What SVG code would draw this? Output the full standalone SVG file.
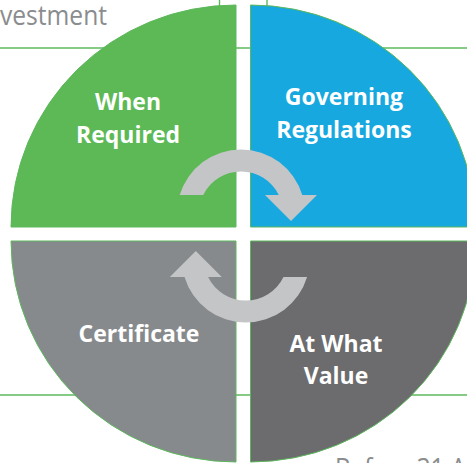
<svg xmlns="http://www.w3.org/2000/svg" xmlns:xlink="http://www.w3.org/1999/xlink" width="467" height="463" viewBox="0 0 467 463">
  <style>
    .rule { stroke: #5cb85c; stroke-width: 1.4; fill: none; }
    .quad { stroke: #5cb85c; stroke-width: 1; }
    .lbl { font-family: "Open Sans", "Liberation Sans", sans-serif; font-weight: 700; font-size: 23px; fill: #ffffff; text-anchor: middle; }
    .page { font-family: "Open Sans", "Liberation Sans", sans-serif; font-weight: 400; font-size: 27px; fill: #8a8c8e; }
    .arrow { fill: #c3c5c6; }
  </style>
  <defs>
    <path id="arrow" d="M179.7,195 A64,64 0 0 1 302.3,195 L317,195 L291,221 L265,195 L278.7,195 A42,42 0 0 0 203.3,195 Z"/>
  </defs>
  <rect width="467" height="463" fill="#ffffff"/>
  <g id="background">
    <text class="page" x="0" y="25" textLength="107" lengthAdjust="spacingAndGlyphs">vestment</text>
    <text class="page" x="335" y="478" textLength="131" lengthAdjust="spacingAndGlyphs">Before 31 A</text>
    <line class="rule" x1="0" y1="48" x2="467" y2="48"/>
    <line class="rule" x1="0" y1="395" x2="467" y2="395"/>
    <line class="rule" x1="219.5" y1="0" x2="219.5" y2="8"/>
    <line class="rule" x1="267" y1="0" x2="267" y2="8"/>
  </g>
  <g id="node-when">
    <path class="quad" fill="#5cb955" d="M236,227 L236,5 A225,222 0 0 0 11,227 Z"/>
    <text class="lbl" x="128" y="110">When</text>
    <text class="lbl" x="128" y="143">Required</text>
  </g>
  <g id="node-governing">
    <path class="quad" fill="#16a8df" d="M250.5,227 L250.5,5 A225,222 0 0 1 475.5,227 Z"/>
    <text class="lbl" x="344" y="105">Governing</text>
    <text class="lbl" x="344" y="137.5">Regulations</text>
  </g>
  <g id="node-certificate">
    <path class="quad" fill="#878a8c" d="M236,241 L11,241 A225,221 0 0 0 236,462 Z"/>
    <text class="lbl" x="139" y="341.5">Certificate</text>
  </g>
  <g id="node-value">
    <path class="quad" fill="#6c6b6d" d="M250.5,241 L250.5,462 A225,221 0 0 0 475.5,241 Z"/>
    <text class="lbl" x="336" y="352">At What</text>
    <text class="lbl" x="336" y="384">Value</text>
  </g>
  <g id="connectors">
    <use class="arrow" href="#arrow" xlink:href="#arrow"/>
    <use class="arrow" href="#arrow" xlink:href="#arrow" transform="rotate(180 243.4 236)"/>
  </g>
</svg>
